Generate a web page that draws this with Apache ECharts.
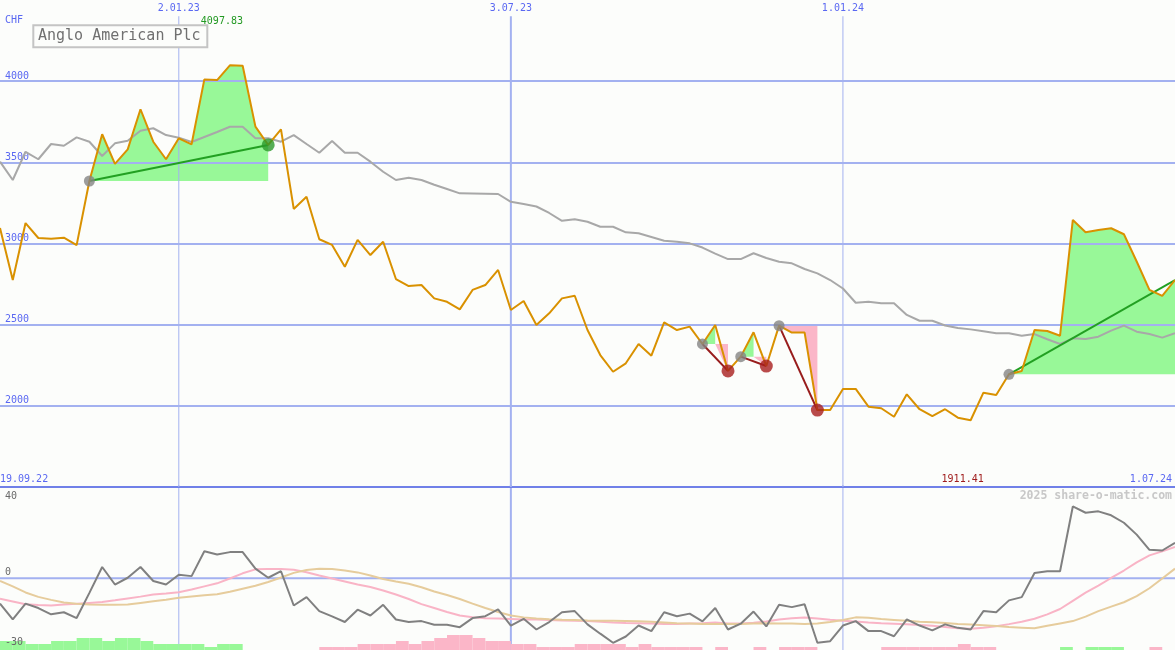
<!DOCTYPE html>
<html>
<head>
<meta charset="utf-8">
<script src="https://cdn.jsdelivr.net/npm/echarts@6/dist/echarts.min.js"></script>
<style>
html,body{margin:0;padding:0;background:#fcfdfb;overflow:hidden}
#chart{width:1175px;height:650px}
</style>
</head>
<body>
<div id="chart"></div>
<script>
// ---------------- data ----------------
const title = 'Anglo American Plc';
const currency = 'CHF';
const firstLabel = '19.09.22';
const lastLabel = '1.07.24';
const copyright = '2025 share-o-matic.com';
const firstWeek = [2022, 9, 26];   // weekly observations start here
const weekCount = 93;

const price = [
  3095, 2775, 3126, 3034, 3030, 3036, 2990, 3385, 3673, 3490,
  3580, 3827, 3627, 3519, 3648, 3611, 4011, 4007, 4097.83, 4095,
  3720, 3607, 3703, 3213, 3288, 3026, 2991, 2857, 3022, 2929,
  3011, 2781, 2738, 2744, 2662, 2641, 2594, 2714, 2744, 2837,
  2590, 2646, 2498, 2570, 2662, 2678, 2467, 2313, 2210, 2262,
  2381, 2309, 2514, 2467, 2488, 2381, 2498, 2215, 2303, 2453,
  2245, 2494, 2451, 2451, 1974, 1974, 2104, 2104, 1995, 1985,
  1933, 2071, 1979, 1937, 1979, 1927, 1911.41, 2081, 2067, 2194,
  2215, 2467, 2461, 2432, 3145, 3069, 3083, 3094, 3057, 2889,
  2714, 2677, 2775
];
const avg = [
  3504, 3391, 3565, 3519, 3613, 3602, 3654, 3627, 3539, 3617,
  3633, 3695, 3710, 3668, 3652, 3625, 3656, 3687, 3719, 3719,
  3648, 3648, 3627, 3668, 3613, 3559, 3631, 3559, 3559, 3504,
  3442, 3391, 3405, 3391, 3362, 3336, 3309, 3308, 3307, 3305,
  3257, 3243, 3228, 3188, 3140, 3149, 3134, 3103, 3103, 3069,
  3063, 3040, 3017, 3011, 3001, 2975, 2938, 2904, 2904, 2940,
  2911, 2888, 2878, 2843, 2816, 2775, 2723, 2635, 2641, 2632,
  2632, 2560, 2524, 2524, 2495, 2479, 2471, 2459, 2447, 2447,
  2432, 2442, 2410, 2381, 2416, 2412, 2426, 2463, 2494, 2457,
  2442, 2420, 2447
];
const osc = [
  -10.9, -17.7, -10.9, -12.8, -15.5, -14.6, -17.1, -6.3, 4.8, -2.7,
  0.2, 4.8, -1.2, -2.7, 1.5, 0.9, 11.6, 10.2, 11.2, 11.2,
  4.1, 0.2, 3.0, -11.7, -8.1, -14.1, -16.4, -18.8, -13.5, -16.0,
  -11.4, -17.7, -18.8, -18.4, -20.0, -20.0, -21.0, -17.1, -16.3, -13.4,
  -20.3, -17.4, -22.0, -18.8, -14.6, -14.1, -19.8, -23.8, -27.7, -25.0,
  -20.3, -22.7, -14.6, -16.3, -15.2, -18.5, -12.8, -22.0, -19.5, -14.3,
  -20.7, -11.4, -12.4, -11.2, -27.7, -27.0, -20.3, -18.4, -22.7, -22.7,
  -24.9, -17.7, -20.3, -22.4, -19.8, -21.3, -22.0, -14.1, -14.6, -9.5,
  -8.1, 2.2, 3.0, 3.0, 30.8, 28.1, 28.7, 27.0, 23.8, 18.7,
  12.2, 11.9, 15.2
];
const oscFast = [
  -8.8, -10.0, -11.2, -11.5, -11.7, -11.3, -11.0, -10.6, -10.2, -9.5,
  -8.7, -7.9, -7.0, -6.6, -6.0, -4.8, -3.5, -2.2, -0.1, 2.1,
  3.8, 4.0, 4.0, 3.6, 2.6, 1.2, -0.1, -1.4, -2.7, -3.8,
  -5.3, -7.0, -8.9, -11.1, -12.8, -14.5, -16.0, -16.7, -17.2, -17.3,
  -17.5, -17.7, -17.7, -17.9, -18.1, -18.3, -18.4, -18.7, -19.0, -19.2,
  -19.3, -19.4, -19.6, -19.6, -19.4, -19.3, -19.0, -19.4, -19.4, -19.1,
  -18.6, -17.7, -17.2, -16.9, -17.3, -17.8, -18.2, -18.6, -19.0, -19.3,
  -19.5, -19.8, -20.1, -20.4, -20.9, -21.5, -21.7, -21.3, -20.6, -19.7,
  -18.7, -17.4, -15.5, -13.2, -9.7, -6.2, -3.2, 0.1, 3.3, 6.8,
  9.8, 11.5, 13.4
];
const oscSlow = [
  -1.2, -3.5, -6.1, -8.0, -9.3, -10.4, -11.0, -11.3, -11.4, -11.4,
  -11.3, -10.6, -9.9, -9.2, -8.4, -7.8, -7.3, -6.9, -5.8, -4.5,
  -3.2, -1.6, 0.3, 2.3, 3.5, 4.1, 4.0, 3.3, 2.5, 1.2,
  -0.3, -1.4, -2.4, -3.9, -5.7, -7.2, -8.9, -10.9, -12.8, -14.5,
  -16.0, -16.8, -17.3, -17.6, -17.8, -17.9, -18.1, -18.2, -18.3, -18.4,
  -18.5, -18.7, -19.0, -19.3, -19.4, -19.6, -19.6, -19.6, -19.6, -19.4,
  -19.3, -19.4, -19.4, -19.6, -19.4, -18.8, -17.9, -16.8, -17.0, -17.5,
  -17.9, -18.3, -18.7, -18.9, -19.2, -19.6, -19.9, -20.2, -20.5, -20.9,
  -21.2, -21.5, -20.4, -19.4, -18.4, -16.5, -14.1, -12.2, -10.3, -7.7,
  -4.3, -0.1, 4.1
];
// weekly signal strength bars (positive = green, negative = pink), one per week interval
const hist = [
  9, 9, 6, 6, 9, 9, 12, 12, 9, 12,
  12, 9, 6, 6, 6, 6, 3, 6, 6, 0,
  0, 0, 0, 0, 0, -3, -3, -3, -6, -6,
  -6, -9, -6, -9, -12, -15, -15, -12, -9, -9,
  -6, -6, -3, -3, -3, -6, -6, -6, -6, -3,
  -6, -3, -3, -3, -3, 0, -3, 0, 0, -3,
  0, -3, -3, -3, 0, 0, 0, 0, 0, -3,
  -3, -3, -3, -3, -3, -6, -3, -3, 0, 0,
  0, 0, 0, 3, 0, 3, 3, 3, 0, 0,
  -3, 0
];
// trend segments: start index, end index, closed (end marker drawn)
const trendStart = [7, 55, 58, 61, 79];
const trendEnd   = [21, 57, 60, 64, 92];
const trendClosed = [true, true, true, true, false];

const priceTicks = [2000, 2500, 3000, 3500, 4000];
const oscTicks = [40, 0, -30];
const gridDates = [[2023, 1, 2], [2023, 7, 3], [2024, 1, 1]];
const gridLabels = ['2.01.23', '3.07.23', '1.01.24'];

// ---------------- styles ----------------
const BG = '#fcfdfb';
const GRID = '#a3b1f0';
const SEP = '#7080e8';
const BLUE_TXT = '#5a68f2';
const MONO = '"DejaVu Sans Mono", "Liberation Mono", monospace';
const PRICE_C = '#d99100';
const AVG_C = '#a8a8a8';
const GREEN_FILL = '#98f898';
const PINK_FILL = '#fbb6c8';
const VLINE_W = [1, 2, 1];

const dates = [];
for (let i = 0; i < weekCount; i++) {
  dates.push(new Date(firstWeek[0], firstWeek[1] - 1, firstWeek[2] + 7 * i).getTime());
}
const tMin = dates[0], tMax = dates[dates.length - 1];
const PRICE_MIN = 1500, PRICE_MAX = 4500, PRICE_TOPLINE = 4400;
const OSC_MIN = -30.8, OSC_MAX = 40;

const xy = arr => arr.map((v, i) => [dates[i], v]);
const series = [];

// vertical grid lines (both panels)
gridDates.forEach((d, k) => {
  const t = new Date(d[0], d[1] - 1, d[2]).getTime();
  series.push({type: 'line', xAxisIndex: 0, yAxisIndex: 0, data: [[t, PRICE_TOPLINE], [t, PRICE_MIN]],
    symbol: 'none', silent: true, z: 2, lineStyle: {color: GRID, width: VLINE_W[k]}});
  series.push({type: 'line', xAxisIndex: 1, yAxisIndex: 1, data: [[t, OSC_MAX], [t, OSC_MIN]],
    symbol: 'none', silent: true, z: 0, lineStyle: {color: GRID, width: VLINE_W[k]}});
});

// trend fills
trendStart.forEach((s, k) => {
  const e = trendEnd[k];
  const b = price[s];
  const gB = [], gT = [], pB = [], pT = [];
  for (let i = s; i <= e; i++) {
    const p = price[i];
    gB.push([dates[i], p >= b ? b : '-']);
    gT.push([dates[i], p >= b ? p - b : '-']);
    pB.push([dates[i], Math.min(p, b)]);
    pT.push([dates[i], b - Math.min(p, b)]);
  }
  const common = {type: 'line', xAxisIndex: 0, yAxisIndex: 0, symbol: 'none', silent: true, z: 1};
  series.push(Object.assign({}, common, {stack: 'g' + k, data: gB, lineStyle: {width: 0, opacity: 0}}));
  series.push(Object.assign({}, common, {stack: 'g' + k, data: gT, lineStyle: {width: 0, opacity: 0},
    areaStyle: {color: GREEN_FILL, opacity: 1}}));
  series.push(Object.assign({}, common, {stack: 'p' + k, data: pB, lineStyle: {width: 0, opacity: 0}}));
  series.push(Object.assign({}, common, {stack: 'p' + k, data: pT, lineStyle: {width: 0, opacity: 0},
    areaStyle: {color: PINK_FILL, opacity: 1}}));
});

// moving average
series.push({type: 'line', xAxisIndex: 0, yAxisIndex: 0, data: xy(avg), symbol: 'none', silent: true, z: 3,
  lineStyle: {color: AVG_C, width: 2}});

// trend lines
trendStart.forEach((s, k) => {
  const e = trendEnd[k];
  const gain = price[e] >= price[s];
  series.push({type: 'line', xAxisIndex: 0, yAxisIndex: 0, data: [[dates[s], price[s]], [dates[e], price[e]]],
    symbol: 'none', silent: true, z: 4, lineStyle: {color: gain ? '#22a022' : '#981c1c', width: 2}});
});

// price
series.push({type: 'line', xAxisIndex: 0, yAxisIndex: 0, data: xy(price), symbol: 'none', silent: true, z: 5,
  lineStyle: {color: PRICE_C, width: 2}});

// markers
series.push({type: 'scatter', xAxisIndex: 0, yAxisIndex: 0, silent: true, z: 6, symbolSize: 11,
  itemStyle: {color: '#858585'},
  data: trendStart.map(s => [dates[s], price[s]])});
series.push({type: 'scatter', xAxisIndex: 0, yAxisIndex: 0, silent: true, z: 6, symbolSize: 13,
  data: trendStart.map((s, k) => {
    const e = trendEnd[k];
    if (!trendClosed[k]) return null;
    return {value: [dates[e], price[e]], itemStyle: {color: price[e] >= price[s] ? '#2a982a' : '#a81e1e'}};
  }).filter(Boolean)});

// lower panel
series.push({type: 'bar', xAxisIndex: 2, yAxisIndex: 2, silent: true, z: 1, barCategoryGap: '0%',
  data: hist.map(v => ({value: Math.abs(v), itemStyle: {color: v >= 0 ? GREEN_FILL : PINK_FILL}}))});
series.push({type: 'line', xAxisIndex: 1, yAxisIndex: 1, data: [[tMin, 0], [tMax, 0]], symbol: 'none',
  silent: true, z: 1, lineStyle: {color: GRID, width: 2}});
series.push({type: 'line', xAxisIndex: 1, yAxisIndex: 1, data: xy(oscFast), symbol: 'none', silent: true, z: 2,
  lineStyle: {color: '#f9b4c6', width: 2}});
series.push({type: 'line', xAxisIndex: 1, yAxisIndex: 1, data: xy(oscSlow), symbol: 'none', silent: true, z: 3,
  lineStyle: {color: '#e6cc9c', width: 2}});
series.push({type: 'line', xAxisIndex: 1, yAxisIndex: 1, data: xy(osc), symbol: 'none', silent: true, z: 4,
  lineStyle: {color: '#808080', width: 2}});

const option = {
  animation: false,
  backgroundColor: BG,
  grid: [
    {left: 0, right: 0, top: 0, height: 487},
    {left: 0, right: 0, top: 485, height: 165},
    {left: 0, right: 0, top: 485, height: 165}
  ],
  xAxis: [
    {type: 'time', gridIndex: 0, min: tMin, max: tMax, z: 2,
      axisLine: {show: true, onZero: false, lineStyle: {color: SEP, width: 2}},
      axisTick: {show: false}, axisLabel: {show: false}, splitLine: {show: false}},
    {type: 'time', gridIndex: 1, min: tMin, max: tMax, show: false},
    {type: 'category', gridIndex: 2, data: dates.slice(0, hist.length).map(String), show: false, boundaryGap: true}
  ],
  yAxis: [
    {type: 'value', gridIndex: 0, min: PRICE_MIN, max: PRICE_MAX, interval: 500, z: 2,
      axisLine: {show: false}, axisTick: {show: false},
      axisLabel: {inside: true, margin: 5, verticalAlign: 'bottom', color: BLUE_TXT, fontFamily: MONO, fontSize: 10,
        showMinLabel: false, showMaxLabel: false,
        formatter: v => priceTicks.includes(v) ? String(v) : ''},
      splitLine: {show: true, showMinLine: false, showMaxLine: false, lineStyle: {color: GRID, width: 2}}},
    {type: 'value', gridIndex: 1, min: OSC_MIN, max: OSC_MAX, show: false, splitLine: {show: false}},
    {type: 'value', gridIndex: 2, min: 0, max: 165, show: false, splitLine: {show: false}}
  ],
  series: series
};

const chart = echarts.init(document.getElementById('chart'));
chart.setOption(option);

// ---------------- texts ----------------
function txt(text, x, y, color, size, align, vAlign, weight) {
  return {type: 'text', x: x, y: y, z: 100, silent: true,
    style: {text: text, fill: color, font: (weight || 'normal') + ' ' + size + 'px ' + MONO,
      align: align, verticalAlign: vAlign, textAlign: align, textVerticalAlign: vAlign}};
}
const gx = t => chart.convertToPixel({xAxisIndex: 0}, t);
const oy = v => chart.convertToPixel({yAxisIndex: 1}, v);
let iMax = 0, iMin = 0;
price.forEach((p, i) => { if (p > price[iMax]) iMax = i; if (p < price[iMin]) iMin = i; });

const g = [];
gridDates.forEach((d, k) => {
  const t = new Date(d[0], d[1] - 1, d[2]).getTime();
  g.push(txt(gridLabels[k], gx(t), 8, BLUE_TXT, 10, 'center', 'middle'));
});
g.push(txt(currency, 5, 20, BLUE_TXT, 10, 'left', 'middle'));
g.push({type: 'rect', z: 99, silent: true, shape: {x: 33.3, y: 25.3, width: 174, height: 22},
  style: {fill: BG, stroke: '#c4c4c4', lineWidth: 2}});
g.push(txt(title, 38, 36.5, '#707070', 15, 'left', 'middle'));
g.push(txt(price[iMax].toFixed(2), gx(dates[iMax]) - 8, 21, '#229922', 10, 'center', 'middle'));
g.push(txt(price[iMin].toFixed(2), gx(dates[iMin]) - 8, 479.5, '#a01c1c', 10, 'center', 'middle'));
g.push(txt(firstLabel, 0, 479.5, BLUE_TXT, 10, 'left', 'middle'));
g.push(txt(lastLabel, 1172, 479.5, BLUE_TXT, 10, 'right', 'middle'));
g.push(txt(copyright, 1172, 496, '#c8c8c8', 11.5, 'right', 'middle', 'bold'));
oscTicks.forEach((v, k) => {
  const y = oy(v);
  if (k === 0) g.push(txt(String(v), 5, y + 6, '#6a6a6a', 10, 'left', 'top'));
  else g.push(txt(String(v), 5, y - 1, '#6a6a6a', 10, 'left', 'bottom'));
});
chart.setOption({graphic: {elements: g}});
</script>
</body>
</html>
